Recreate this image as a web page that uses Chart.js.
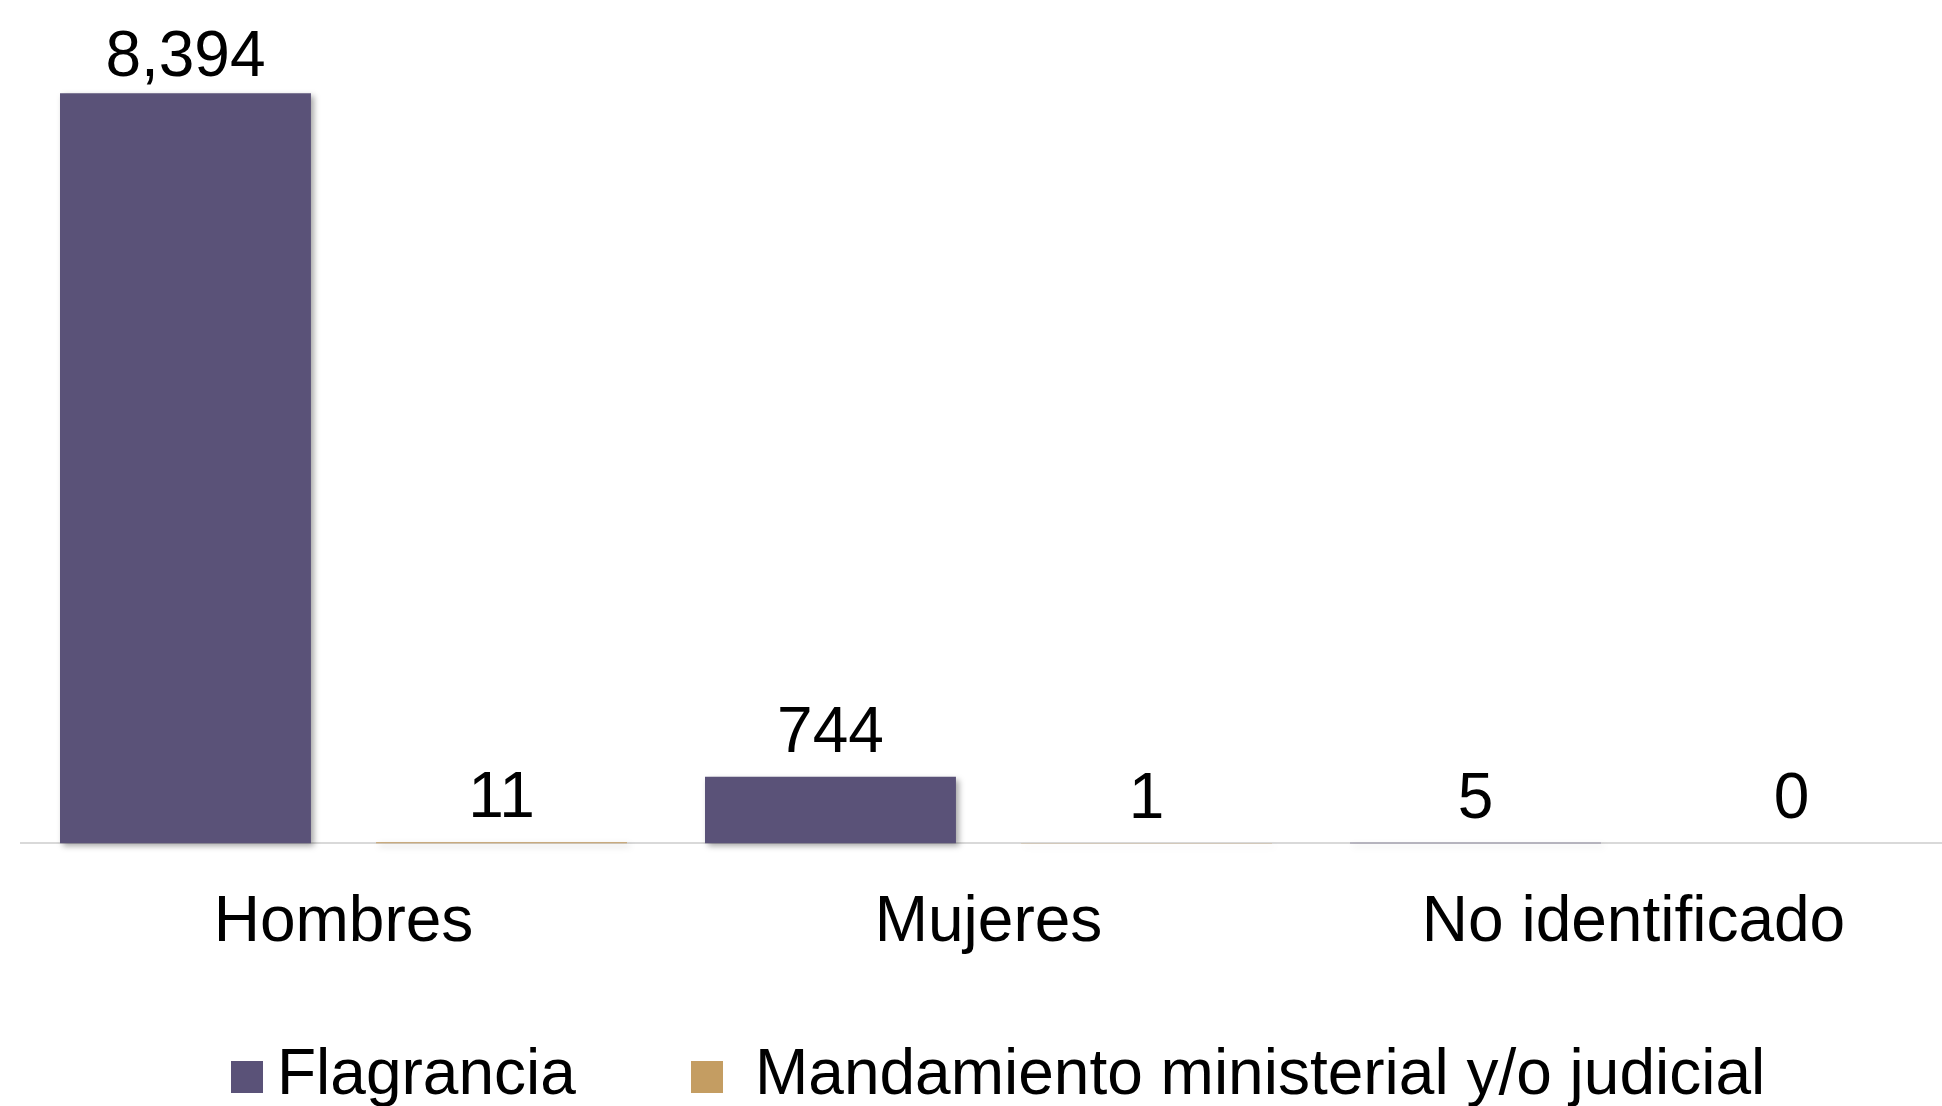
<!DOCTYPE html>
<html>
<head>
<meta charset="utf-8">
<script src="https://cdn.jsdelivr.net/npm/chart.js@4.4.1/dist/chart.umd.min.js"></script>
<style>
  html, body { margin: 0; padding: 0; background: #fff; overflow: hidden; }
  #wrap { width: 1956px; height: 1106px; }
</style>
</head>
<body>
<div id="wrap"><canvas id="chart" width="1956" height="1106"></canvas></div>
<script>
const categories = ['Hombres', 'Mujeres', 'No identificado'];
const seriesNames = ['Flagrancia', 'Mandamiento ministerial y/o judicial'];
const flagrancia = [8394, 744, 5];
const mandamiento = [11, 1, 0];
const seriesColors = ['#5A5278', '#C49D62'];

// value labels above bars + soft shadow under the bars
const barExtras = {
  id: 'barExtras',
  beforeDatasetsDraw(chart) {
    const ctx = chart.ctx;
    ctx.save();
    ctx.shadowColor = 'rgba(0, 0, 0, 0.35)';
    ctx.shadowBlur = 6;
    ctx.shadowOffsetX = 3;
    ctx.shadowOffsetY = 3;
  },
  afterDatasetsDraw(chart) {
    const ctx = chart.ctx;
    ctx.restore();
    ctx.save();
    ctx.font = '64px "Liberation Sans", Arial, sans-serif';
    ctx.fillStyle = '#000';
    ctx.textAlign = 'center';
    ctx.textBaseline = 'alphabetic';
    chart.data.datasets.forEach((ds, i) => {
      const meta = chart.getDatasetMeta(i);
      meta.data.forEach((bar, j) => {
        const y = Math.max(bar.y - 25, chart.chartArea.top + 37);
        ctx.fillText(ds.data[j].toLocaleString('en-US'), bar.x, y);
      });
    });
    ctx.restore();
  },
  afterDraw(chart) {
    // legend row at the bottom
    const ctx = chart.ctx;
    ctx.save();
    ctx.font = '64px "Liberation Sans", Arial, sans-serif';
    ctx.textBaseline = 'alphabetic';
    ctx.textAlign = 'left';
    const box = 32, boxTop = 1061;
    const boxX = [231, 691];
    const textGap = [14, 32];
    chart.data.datasets.forEach((ds, i) => {
      ctx.fillStyle = ds.backgroundColor;
      ctx.fillRect(boxX[i], boxTop, box, box);
      ctx.fillStyle = '#000';
      ctx.fillText(ds.label, boxX[i] + box + textGap[i], boxTop + 33);
    });
    ctx.restore();
  }
};

const ctx = document.getElementById('chart').getContext('2d');
new Chart(ctx, {
  type: 'bar',
  data: {
    labels: categories,
    datasets: [
      { label: seriesNames[0], data: flagrancia, backgroundColor: seriesColors[0], clip: false },
      { label: seriesNames[1], data: mandamiento, backgroundColor: seriesColors[1], clip: false }
    ]
  },
  options: {
    responsive: false,
    animation: false,
    devicePixelRatio: 1,
    categoryPercentage: 0.98,
    barPercentage: 0.794,
    layout: {
      padding: { left: 21, right: 0, top: 39, bottom: 102 }
    },
    scales: {
      x: {
        grid: { display: false, drawTicks: false },
        border: { display: true, color: '#D9D9D9', width: 2 },
        ticks: {
          color: '#000',
          padding: 42,
          font: { family: '"Liberation Sans", Arial, sans-serif', size: 64 }
        }
      },
      y: {
        display: false,
        min: 0,
        max: 9000
      }
    },
    plugins: {
      legend: { display: false },
      tooltip: { enabled: false }
    }
  },
  plugins: [barExtras]
});
</script>
</body>
</html>
